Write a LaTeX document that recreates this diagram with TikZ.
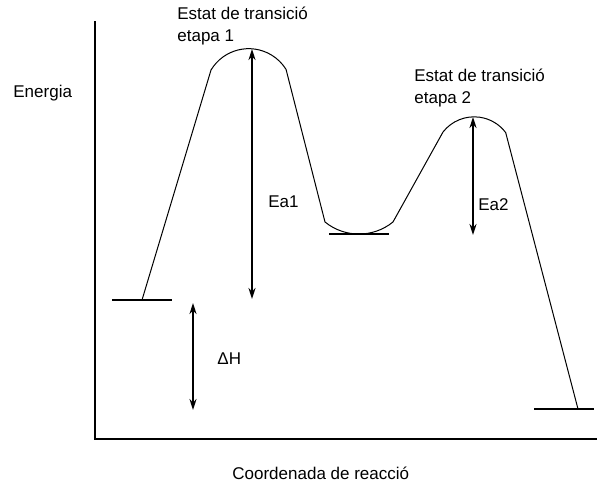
\documentclass[tikz,border=0pt]{standalone}
\usepackage{fontspec}
\setmainfont{Liberation Sans}
\usetikzlibrary{arrows.meta}
\tikzset{
  lbl/.style={anchor=west, inner sep=0pt, font=\fontsize{8.5}{11}\selectfont, align=left},
  level/.style={line width=1pt},
  gap/.style={line width=1pt, {Stealth[length=5.5pt,width=3.5pt]}-{Stealth[length=5.5pt,width=3.5pt]}}
}
\begin{document}
\begin{tikzpicture}[x=0.5pt,y=-0.5pt]
    \useasboundingbox (0,0) rectangle (598,484);
    % axes
    \coordinate (top) at (95,21);
    \coordinate (O) at (95,439);
    \coordinate (right) at (597,439);
    \draw[line width=1.3pt] (top) -- (O) -- (right);
    % energy profile
    \coordinate (start) at (142,300);
    \coordinate (ts1) at (252,49);
    \coordinate (ts2) at (473,117);
    \coordinate (end) at (578,409);
    \draw[line width=0.5pt] (start) -- (211,70) arc[start angle=149, end angle=32, radius=22pt]
        -- (325,222) arc[start angle=231, end angle=309, radius=27pt]
        -- (443,132) arc[start angle=142, end angle=37, radius=19.75pt] -- (end);
    % levels
    \draw[level] (112,300) -- (172,300);
    \draw[level] (329,234) -- (389,234);
    \draw[level] (534,409) -- (594,409);
    % arrows
    \coordinate (ea1b) at (252,299);
    \coordinate (ea2b) at (473,235);
    \coordinate (dh1) at (193,303);
    \coordinate (dh2) at (193,410);
    \draw[gap] (ts1) -- (ea1b);
    \draw[gap] (ts2) -- (ea2b);
    \draw[gap] (dh1) -- (dh2);
    % labels
    \node[lbl] (E) at (13,93) {Energia};
    \node[lbl] (X) at (232,473) {Coordenada de reacció};
    \node[lbl] (T1) at (177,26) {Estat de transició\\etapa 1};
    \node[lbl] (T2) at (414,88) {Estat de transició\\etapa 2};
    \node[lbl] (A1) at (268,202) {Ea1};
    \node[lbl] (A2) at (478,205) {Ea2};
    \node[lbl] (H) at (217,359) {ΔH};
\end{tikzpicture}
\end{document}
